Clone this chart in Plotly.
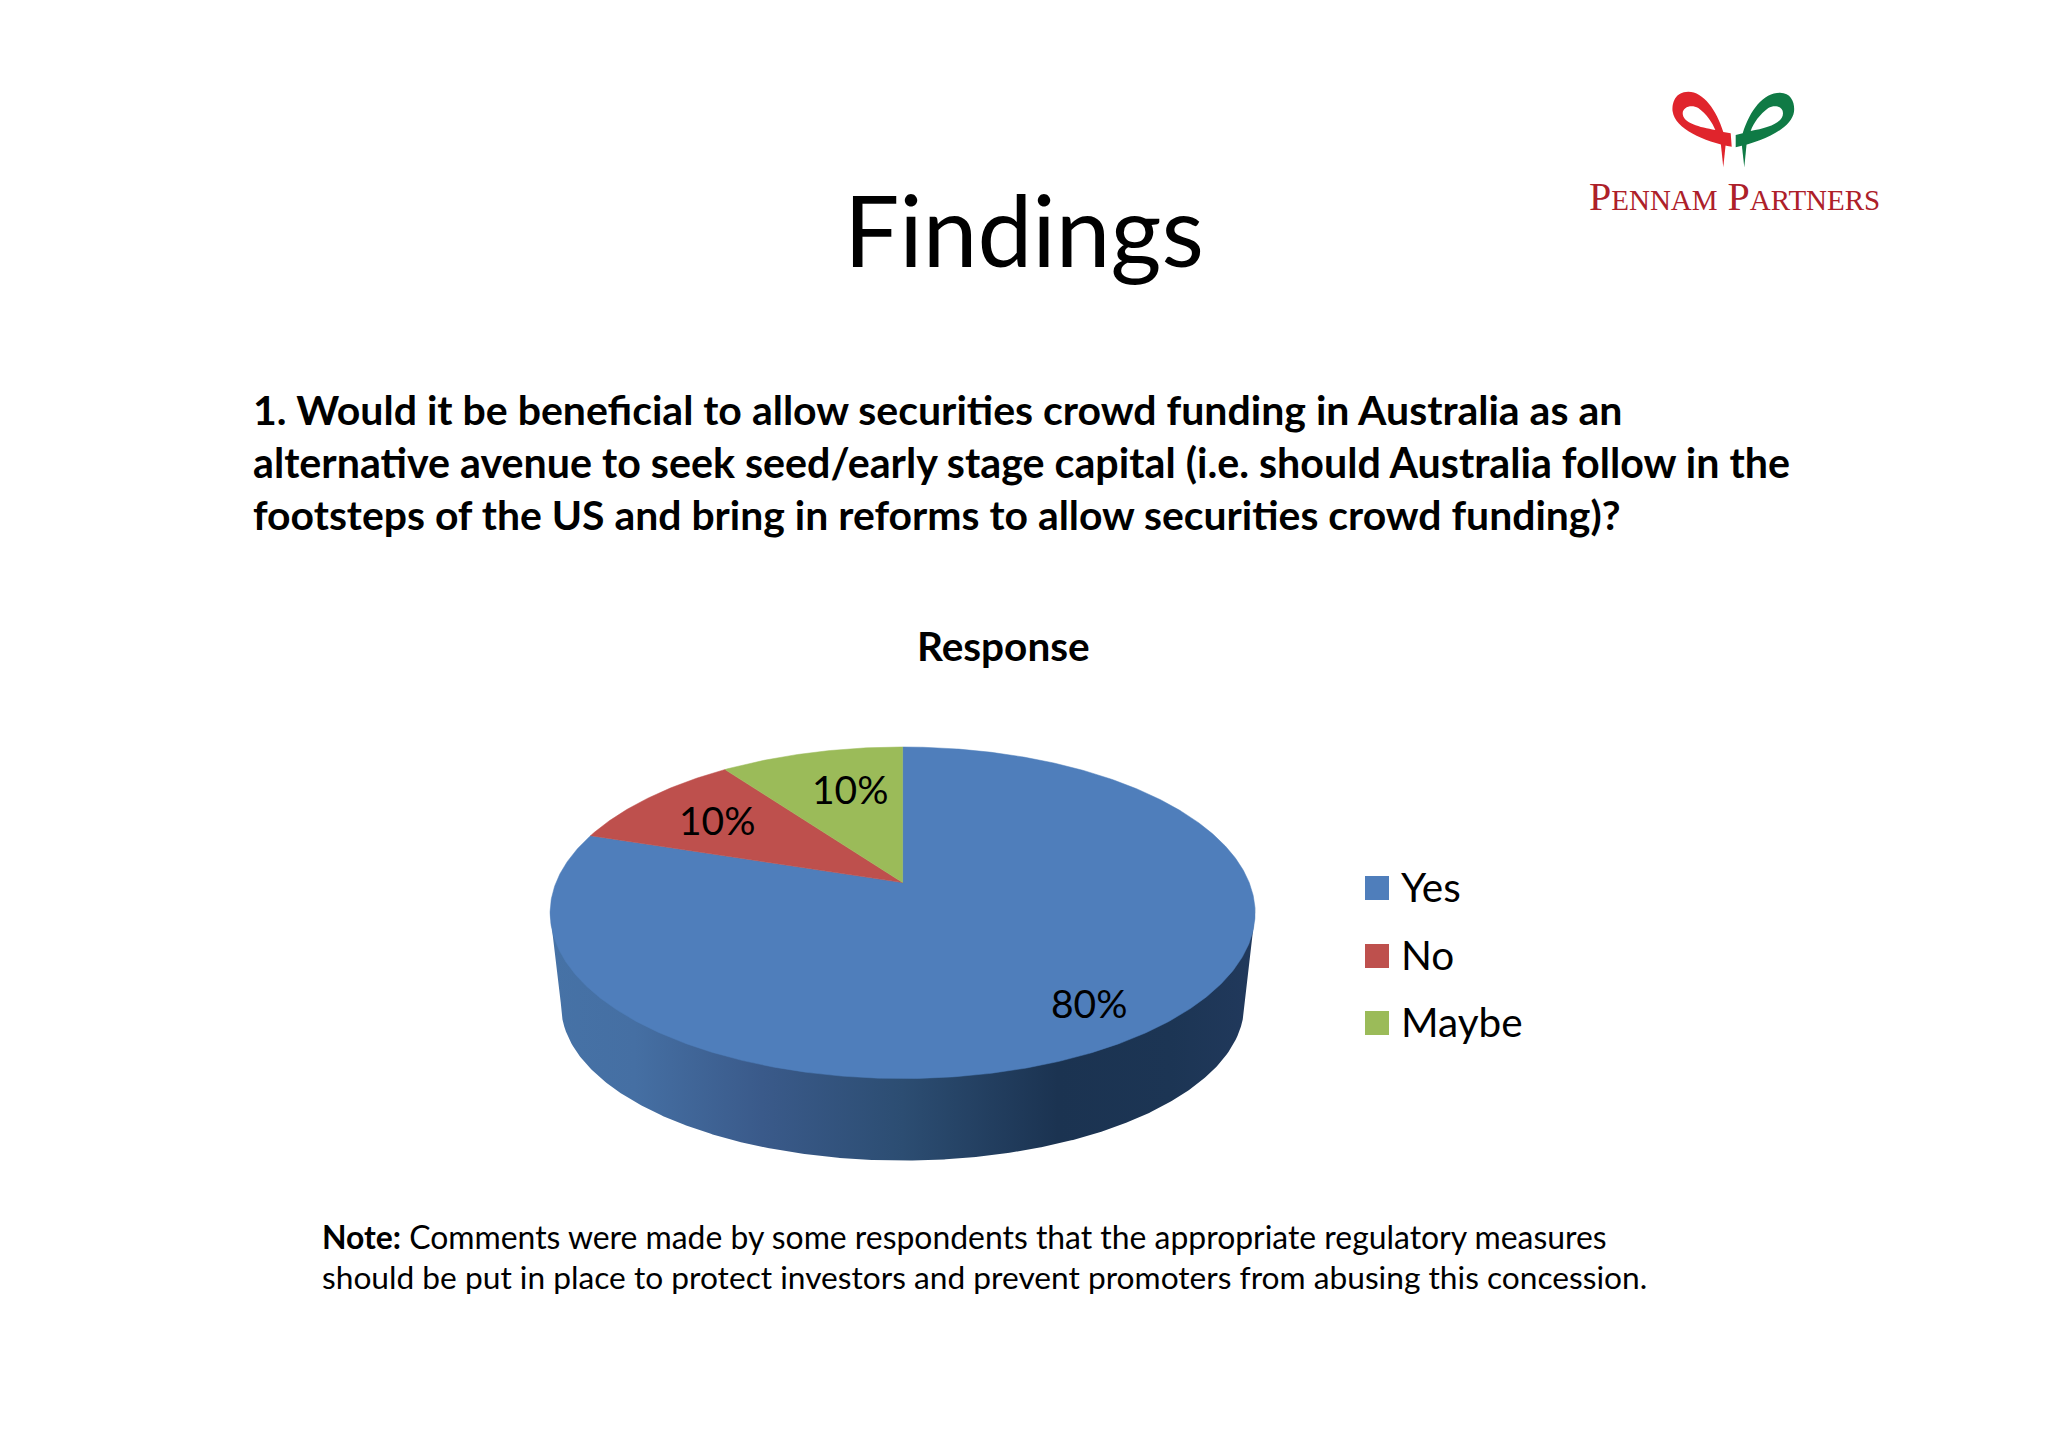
import numpy as np
import plotly.graph_objects as go

categories = ["Yes", "No", "Maybe"]
values = [80, 10, 10]
colors = ["#4F7EBB", "#BE504D", "#9BBB59"]
title = "Findings"
question_lines = [
    "1. Would it be beneficial to allow securities crowd funding in Australia as an",
    "alternative avenue to seek seed/early stage capital (i.e. should Australia follow in the",
    "footsteps of the US and bring in reforms to allow securities crowd funding)?",
]
chart_title = "Response"
note_lines = [
    "<b>Note:</b> Comments were made by some respondents that the appropriate regulatory measures",
    "should be put in place to protect investors and prevent promoters from abusing this concession.",
]

FONT = "Lato"
# Perspective projection of the pie's disc onto the page
APEX_X, APEX_Y = 902.6, 882.6
A, B, K = 346.6, 160.3, 0.182


def project(u, v):
    d = 1 + K * np.asarray(v)
    return APEX_X + A * np.asarray(u) / d, APEX_Y - B * np.asarray(v) / d


def slice_xy(start, end):
    t = np.radians(np.linspace(start, end, max(int(abs(end - start)) * 2, 8)))
    rx, ry = project(-np.sin(t), np.cos(t))
    return np.r_[APEX_X, rx, APEX_X], np.r_[APEX_Y, ry, APEX_Y]


fig = go.Figure()

# Pie side wall
CX, TOP_CY, TOP_RX, TOP_RY = 902.6, 913.0, 352.5, 166.0
BOT_CY, BOT_RX, BOT_RY = 1005.6, 341.5, 155.0
xs = np.linspace(CX - TOP_RX, CX + TOP_RX, 400)
top = TOP_CY + TOP_RY * np.sqrt(np.clip(1 - ((xs - CX) / TOP_RX) ** 2, 0, 1))
bot = BOT_CY + BOT_RY * np.sqrt(np.clip(1 - ((xs - CX) / BOT_RX) ** 2, 0, 1))
edge = np.abs(xs - CX) > BOT_RX
bot[edge] = TOP_CY + (BOT_CY - TOP_CY) * (TOP_RX - np.abs(xs[edge] - CX)) / (TOP_RX - BOT_RX)
fig.add_trace(go.Scatter(
    x=np.r_[xs, xs[::-1]], y=np.r_[top - 6, bot[::-1]],
    mode="lines", line=dict(width=0), fill="toself",
    fillgradient=dict(type="horizontal", colorscale=[
        [0.0, "#4672A6"], [0.12, "#456FA3"], [0.3, "#3A5A8A"], [0.5, "#2C4D72"],
        [0.72, "#1B3351"], [0.88, "#1C3554"], [1.0, "#21395C"]]),
    hoverinfo="skip", showlegend=False))

# Pie top: going counter-clockwise from 12 o'clock the slices are Maybe, No, Yes
total = sum(values)
spans = [v / total * 360 for v in values]
angles = {}
a = 0.0
for i in [2, 1, 0]:
    angles[i] = (a, a + spans[i])
    a += spans[i]
for i in [0, 1, 2]:
    x, y = slice_xy(*angles[i])
    fig.add_trace(go.Scatter(x=x, y=y, mode="lines", line=dict(width=0.5, color=colors[i]),
                             fill="toself", fillcolor=colors[i], name=categories[i],
                             showlegend=False, hoverinfo="name"))

# Data labels (text from the values)
label_pos = {0: (1089, 1003), 1: (717, 820), 2: (850, 789)}
annotations = []


def text(x, y, s, size, anchor="center", color="#000000", family=FONT):
    annotations.append(dict(x=x, y=y, xref="x", yref="y", text=s, showarrow=False,
                            xanchor=anchor, yanchor="middle", align=anchor,
                            font=dict(size=size, color=color, family=family)))


for i, v in enumerate(values):
    text(*label_pos[i], f"{v}%", 39)

# Legend
LEG_Y = [888, 956, 1023]
for i, c in enumerate(categories):
    fig.add_trace(go.Scatter(x=[1377], y=[LEG_Y[i]], mode="markers",
                             marker=dict(symbol="square", size=24, color=colors[i]),
                             showlegend=False, hoverinfo="skip"))
    text(1398.5, LEG_Y[i] - 2, c, 40.5, "left")

# Texts
text(1024, 229, title, 98)
for y, line, size in zip([409, 462, 514], question_lines, [41.0, 41.2, 40.9]):
    text(251, y, f"<b>{line}</b>", size, "left")
text(1003, 645, f"<b>{chart_title}</b>", 40.5)
for y, line, size in zip([1237, 1277], note_lines, [31.9, 31.7]):
    text(320, y, line, size, "left")


# Logo
def z(path):
    """Logo outline given in logo-local units, converted to page pixels."""
    out = []
    tok = path.split()
    i = 0
    while i < len(tok):
        if tok[i].isalpha():
            out.append(tok[i])
            i += 1
        else:
            out.append(f"{1560 + float(tok[i]) / 3:.1f},{70 + float(tok[i + 1]) / 3:.1f}")
            i += 2
    return " ".join(out)


RED, GREEN = "#E0242C", "#0F7A45"
logo = [
    ("M 512 190 L 490 186 C 470 120 430 65 385 65 C 345 65 335 100 338 125 C 345 175 430 215 515 230 Z "
     "M 466 180 C 420 172 368 160 368 130 C 368 110 395 102 415 114 C 440 132 458 160 466 180 Z", RED),
    ("M 482 218 L 497 222 L 490 292 Z", RED),
    ("M 527 232 L 527 195 L 548 190 C 570 120 610 68 660 68 C 695 68 705 100 702 125 C 695 175 610 215 527 232 Z "
     "M 572 183 C 620 175 669 160 669 130 C 669 110 645 102 625 114 C 600 132 580 160 572 183 Z", GREEN),
    ("M 545 222 L 560 218 L 553 292 Z", GREEN),
]
shapes = [dict(type="path", path=z(p), xref="x", yref="y", fillcolor=c, fillrule="evenodd",
               line=dict(width=0), layer="above") for p, c in logo]
S = '<span style="font-size:29px">'
text(1734.5, 196, f'P{S}ENNAM</span> P{S}ARTNERS</span>', 40, color="#AD2029", family="Liberation Serif")

# The page has an 8 px body margin: the plot area covers page pixels 8 to 2040 and 8 to 1439
fig.update_layout(
    width=2032, height=1431, autosize=False,
    margin=dict(l=0, r=0, t=0, b=0), paper_bgcolor="#FFFFFF", plot_bgcolor="#FFFFFF",
    xaxis=dict(range=[8, 2040], visible=False, fixedrange=True),
    yaxis=dict(range=[1439, 8], visible=False, fixedrange=True),
    annotations=annotations, shapes=shapes, showlegend=False,
)
fig.write_html("out.html", config={"displayModeBar": False})
